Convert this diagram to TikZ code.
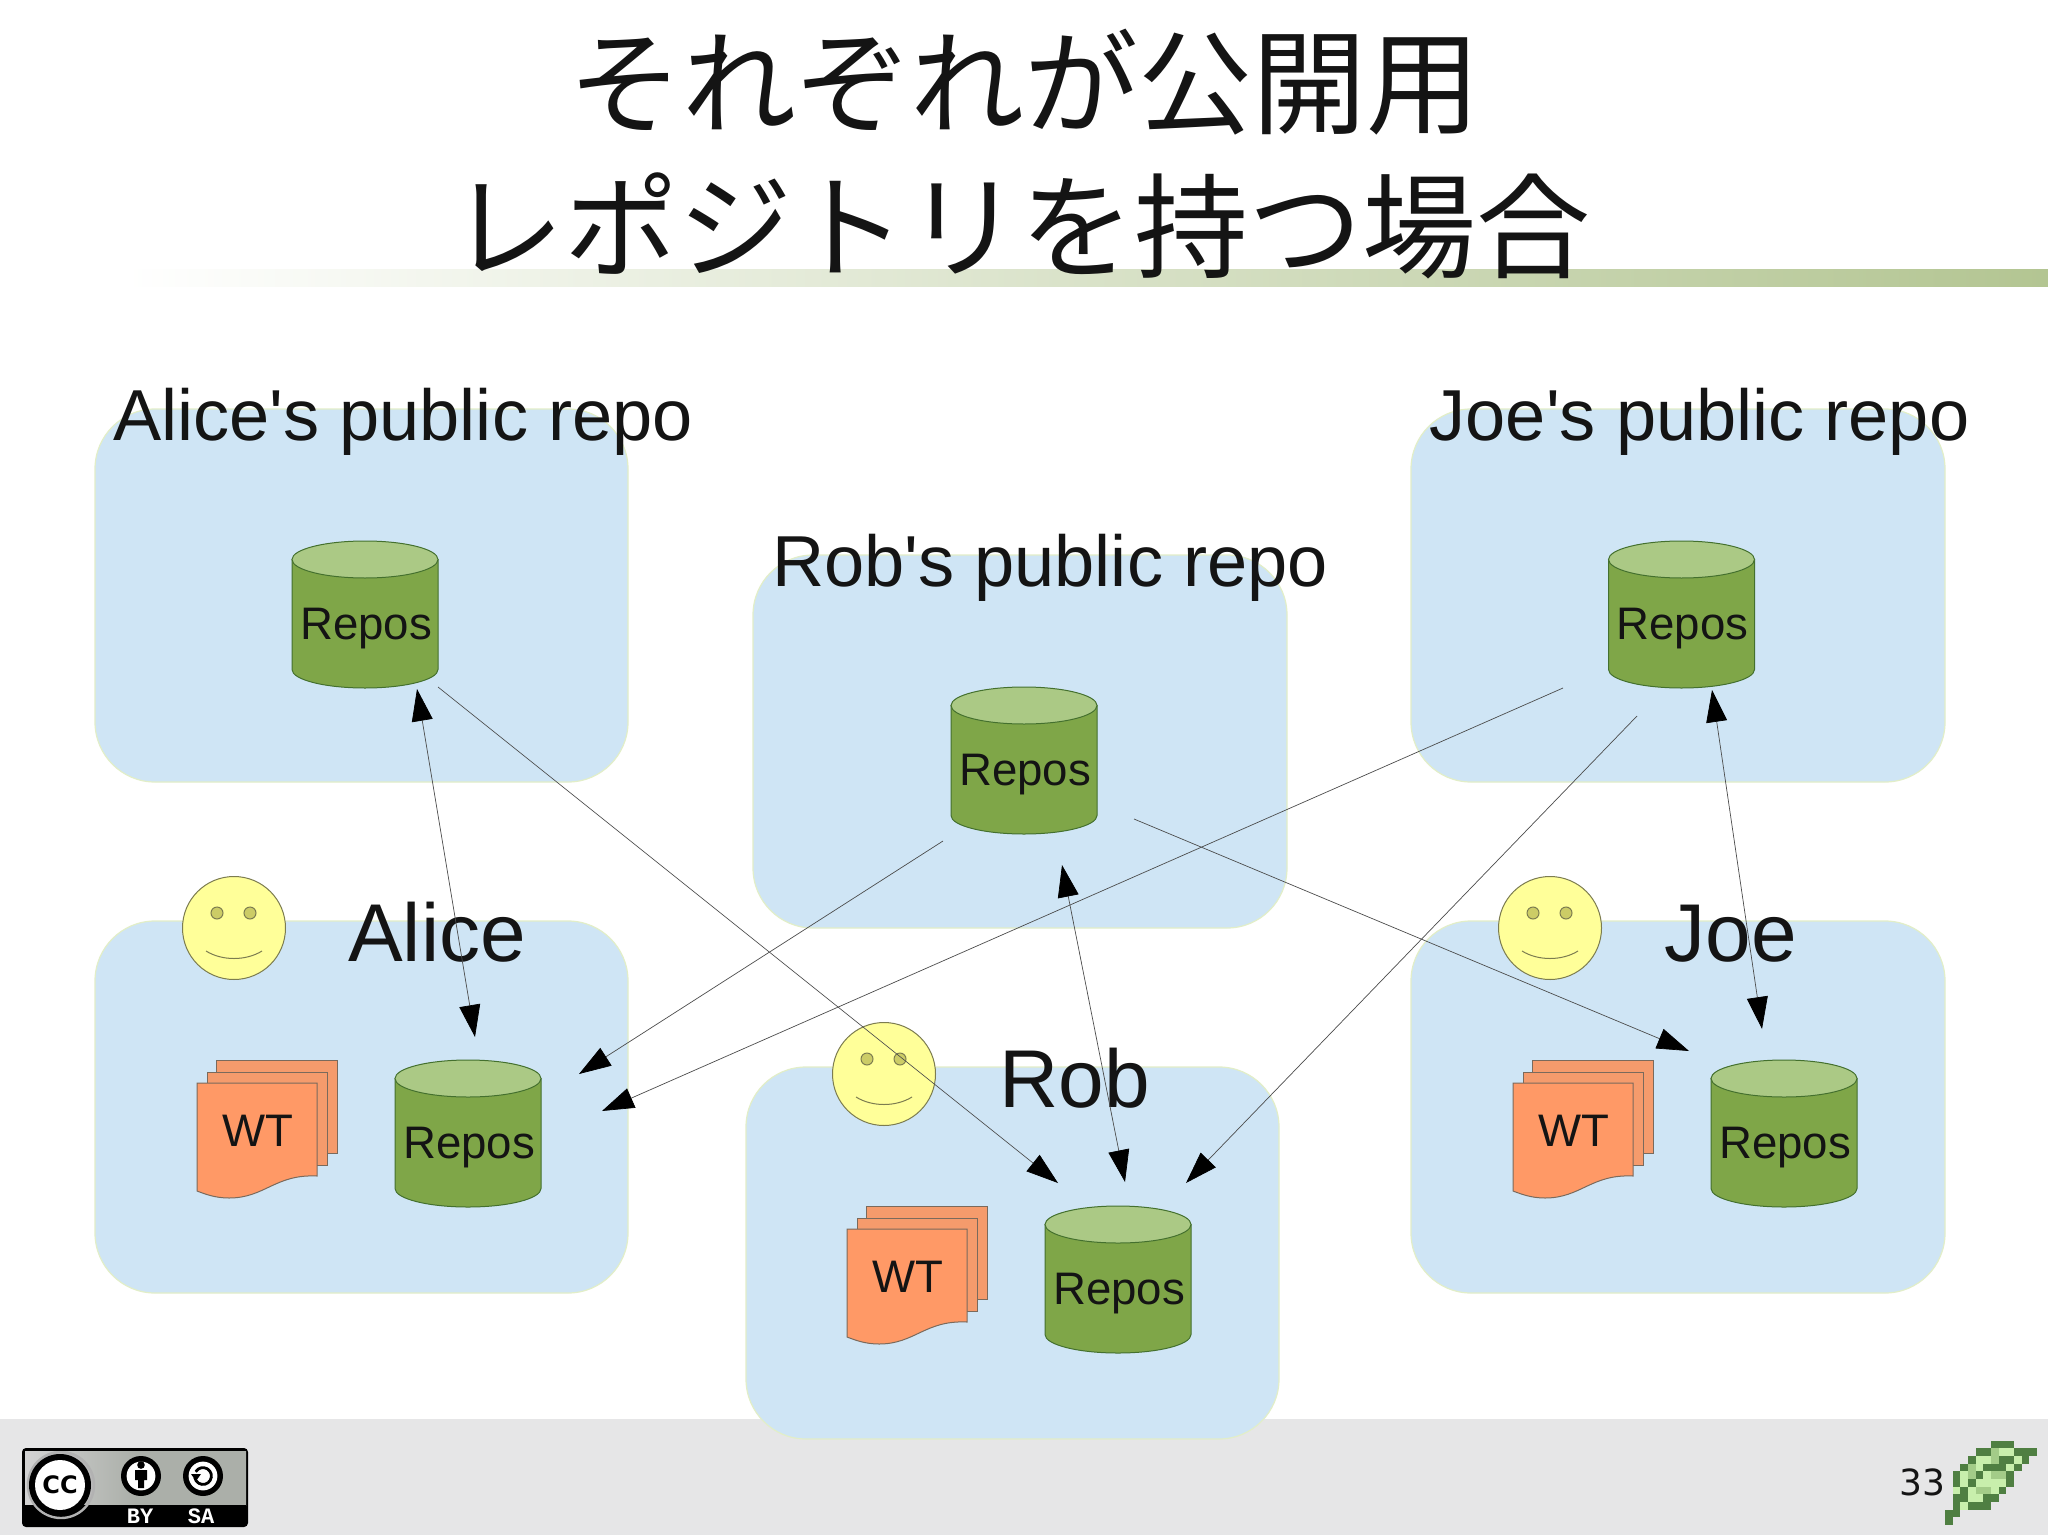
\documentclass[tikz,border=0pt]{standalone}
\usepackage{fontspec}
\setmainfont{Liberation Sans}[Ligatures=TeXOff]
\newfontfamily\jpfont{Noto Sans CJK JP}
\newfontfamily\dvfont{DejaVu Sans}
\newfontfamily\monofont{Liberation Mono}
\usetikzlibrary{arrows.meta}
\definecolor{boxfill}{HTML}{CFE5F5}
\definecolor{boxedge}{HTML}{E2EEC8}
\definecolor{cylbody}{HTML}{7FA648}
\definecolor{cyltop}{HTML}{ABC985}
\definecolor{cyledge}{HTML}{44702E}
\definecolor{docfill}{HTML}{FF9966}
\definecolor{docback}{HTML}{F59B6C}
\definecolor{docedge}{HTML}{7A6A5C}
\definecolor{faceedge}{HTML}{7C7C50}
\definecolor{facefill}{HTML}{FFFF99}
\definecolor{eyefill}{HTML}{CCCC66}
\definecolor{txt}{HTML}{141414}
\definecolor{foot}{HTML}{E6E6E7}
\definecolor{barc}{HTML}{B3C592}
\definecolor{leafD}{HTML}{4F7F42}
\definecolor{leafL}{HTML}{C8EFAC}
\definecolor{leafM}{HTML}{A3CC88}
\definecolor{badge}{HTML}{ABAFA9}
\tikzset{
  x=0.5pt,y=-0.5pt,
  txtlab/.style={inner sep=0pt,anchor=base,text=txt},
  bigtitle/.style={txtlab,font=\jpfont\fontsize{57pt}{57pt}\selectfont},
  headlab/.style={txtlab,font=\fontsize{36.1pt}{36.1pt}\selectfont},
  perslab/.style={txtlab,font=\fontsize{41pt}{41pt}\selectfont},
  itemlab/.style={txtlab,font=\fontsize{22.8pt}{22.8pt}\selectfont},
  area/.style={fill=boxfill,draw=boxedge,line width=0.6pt,rounded corners=30pt},
  cyl/.style={draw=cyledge,line width=0.5pt},
  sheet/.style={draw=docedge,line width=0.5pt},
  face/.style={draw=faceedge,line width=0.5pt},
  link/.style={draw=black!70,line width=0.35pt,>={Triangle[length=16pt,width=10.5pt,fill=black,color=black]}},
}
% name, left x, top y
\newcommand\repocyl[3]{%
  \begin{scope}[shift={(#2,#3)}]
    \path[cyl,fill=cylbody] (0,18.5) -- (0,128.5)
      arc[start angle=180,end angle=360,x radius=36.5pt,y radius=9.25pt]
      -- (146,18.5) -- cycle;
    \path[cyl,fill=cyltop] (73,18.5) ellipse[x radius=36.5pt,y radius=9.25pt];
    \node[itemlab] (#1) at (74,98.5) {Repos};
  \end{scope}}
% name, dx, dy, person name, label centre x
\newcommand\workplace[5]{%
  \begin{scope}[shift={(#2,#3)}]
    \path[face,fill=facefill] (234,928) circle[radius=25.75pt];
    \path[face,fill=eyefill] (217,913) circle[radius=3pt];
    \path[face,fill=eyefill] (250,913) circle[radius=3pt];
    \draw[face] (206,951) .. controls (222,961) and (246,961) .. (262,951);
    \node[perslab] (#1face) at (#5,961) {#4};
    \path[sheet,fill=docback] (216,1060) rectangle (337,1153);
    \path[sheet,fill=docback] (207,1072) rectangle (327,1165);
    \path[sheet,fill=docfill] (197,1083) -- (317,1083) -- (317,1176)
      .. controls (275,1174) and (265,1198) .. (229,1198)
      .. controls (215,1198) and (205,1194) .. (197,1191) -- cycle;
    \node[itemlab] (#1wt) at (257.5,1146) {WT};
  \end{scope}
  \repocyl{#1repo}{\the\numexpr395+#2\relax}{\the\numexpr1060+#3\relax}}
\begin{document}
\begin{tikzpicture}
\useasboundingbox (0,0) rectangle (2048,1535);
\fill[white] (0,0) rectangle (2048,1535);
% footer and title bar
\fill[foot] (0,1419) rectangle (2048,1535);
\shade[left color=white,right color=barc,shading angle=90] (125,270) rectangle (2048,287);
\node[bigtitle] (title1) at (1024,126) {それぞれが公開用};
\node[bigtitle] (title2) at (1020,270) {レポジトリを持つ場合};
% areas
\path[area] (95,409) rectangle (628,782);
\path[area] (1411,409) rectangle (1945,782);
\path[area] (753,555) rectangle (1287,928);
\path[area] (95,921) rectangle (628,1293);
\path[area] (746,1067) rectangle (1279,1439);
\path[area] (1411,921) rectangle (1945,1293);
% headings
\node[headlab] (headA) at (403,440) {Alice's public repo};
\node[headlab] (headR) at (1050,586) {Rob's public repo};
\node[headlab] (headJ) at (1699.5,440) {Joe's public repo};
% public repositories
\repocyl{pubA}{292}{541}
\repocyl{pubR}{951}{687}
\repocyl{pubJ}{1608.5}{541}
% working places
\workplace{alice}{0}{0}{Alice}{437}
\workplace{rob}{650}{146}{Rob}{424.5}
\workplace{joe}{1316}{0}{Joe}{415}
% connector ends
\coordinate (a1) at (417,689);   \coordinate (a2) at (475,1037);
\coordinate (b1) at (438,687);   \coordinate (b2) at (1058,1183);
\coordinate (c1) at (943,841);   \coordinate (c2) at (579,1074);
\coordinate (d1) at (1563,688);  \coordinate (d2) at (602,1111);
\coordinate (e1) at (1637,716);  \coordinate (e2) at (1186,1183);
\coordinate (f1) at (1062,865);  \coordinate (f2) at (1125,1182);
\coordinate (g1) at (1134,819);  \coordinate (g2) at (1689,1051);
\coordinate (h1) at (1712,690);  \coordinate (h2) at (1762,1029);
\draw[link,<->] (a1) -- (a2);
\draw[link,->] (b1) -- (b2);
\draw[link,->] (c1) -- (c2);
\draw[link,->] (d1) -- (d2);
\draw[link,->] (e1) -- (e2);
\draw[link,<->] (f1) -- (f2);
\draw[link,->] (g1) -- (g2);
\draw[link,<->] (h1) -- (h2);
% licence badge
\fill[black,rounded corners=2pt] (22,1448) rectangle (248,1527);
\shade[left color=gray!35,right color=badge,middle color=badge] (25,1451) rectangle (246,1505);
\fill[gray!55] (61,1485) circle[radius=17pt];
\fill[black] (25,1505) rectangle (246,1525);
\begin{scope}
  \clip (25,1451) rectangle (100,1525);
  \draw[gray!60,line width=1.2pt] (61,1485) circle[radius=16.5pt];
\end{scope}
\fill[black] (60,1485) circle[radius=15.5pt];
\fill[white] (60,1485) circle[radius=12.5pt];
\node[inner sep=0pt,text=black,font=\dvfont\bfseries\fontsize{12pt}{12pt}\selectfont] (ccmark) at (60,1485) {CC};
\fill[black] (141,1476) circle[radius=10pt];
\fill[white] (141,1476) circle[radius=7.2pt];
\fill[black] (141,1465) circle[radius=1.9pt];
\fill[black] (135,1470) -- (147,1470) -- (147,1480) -- (144,1480) -- (144,1488) -- (138,1488) -- (138,1480) -- (135,1480) -- cycle;
\fill[black] (203,1476) circle[radius=10pt];
\fill[white] (203,1476) circle[radius=7.2pt];
\draw[black,line width=1.4pt] (203,1476) ++(150:4.2pt) arc[start angle=150,end angle=-170,radius=4.2pt];
\fill[black] (191,1474) -- (201,1474) -- (196,1481) -- cycle;
\node[inner sep=0pt,anchor=base,text=white,font=\monofont\bfseries\fontsize{11pt}{11pt}\selectfont] (by) at (140,1523) {BY};
\node[inner sep=0pt,anchor=base,text=white,font=\monofont\bfseries\fontsize{11pt}{11pt}\selectfont] (sa) at (201,1523) {SA};
% page number
\node[inner sep=0pt,anchor=base east,text=txt,font=\dvfont\fontsize{18pt}{18pt}\selectfont] (pageno) at (1946,1495) {33};
% leaf
\foreach \r/\a/\b/\c in {
  0/6/9/leafD,
  1/4/6/leafD,1/6/7/leafM,1/7/9/leafL,1/9/12/leafD,
  2/3/4/leafD,2/4/6/leafL,2/6/7/leafM,2/7/9/leafD,2/9/10/leafL,2/10/11/leafD,
  3/2/3/leafD,3/3/4/leafM,3/4/5/leafL,3/5/8/leafD,3/8/9/leafL,3/9/10/leafD,
  4/1/2/leafD,4/2/3/leafL,4/3/4/leafM,4/4/5/leafD,4/5/6/leafL,4/6/8/leafM,4/8/9/leafD,
  5/1/2/leafD,5/2/3/leafL,5/3/4/leafD,5/4/8/leafL,5/8/9/leafD,
  6/1/2/leafL,6/2/3/leafD,6/3/4/leafL,6/4/6/leafM,6/6/7/leafL,6/7/8/leafD,
  7/1/3/leafD,7/3/5/leafL,7/5/7/leafD,
  8/1/2/leafD,8/2/3/leafL,8/3/6/leafD,
  9/0/2/leafD,
  10/0/1/leafD}
  \fill[\c] ({1945+\a*7.67},{1440.7+\r*7.67}) rectangle ({1945+\b*7.67},{1440.7+(\r+1)*7.67});
\end{tikzpicture}
\end{document}
